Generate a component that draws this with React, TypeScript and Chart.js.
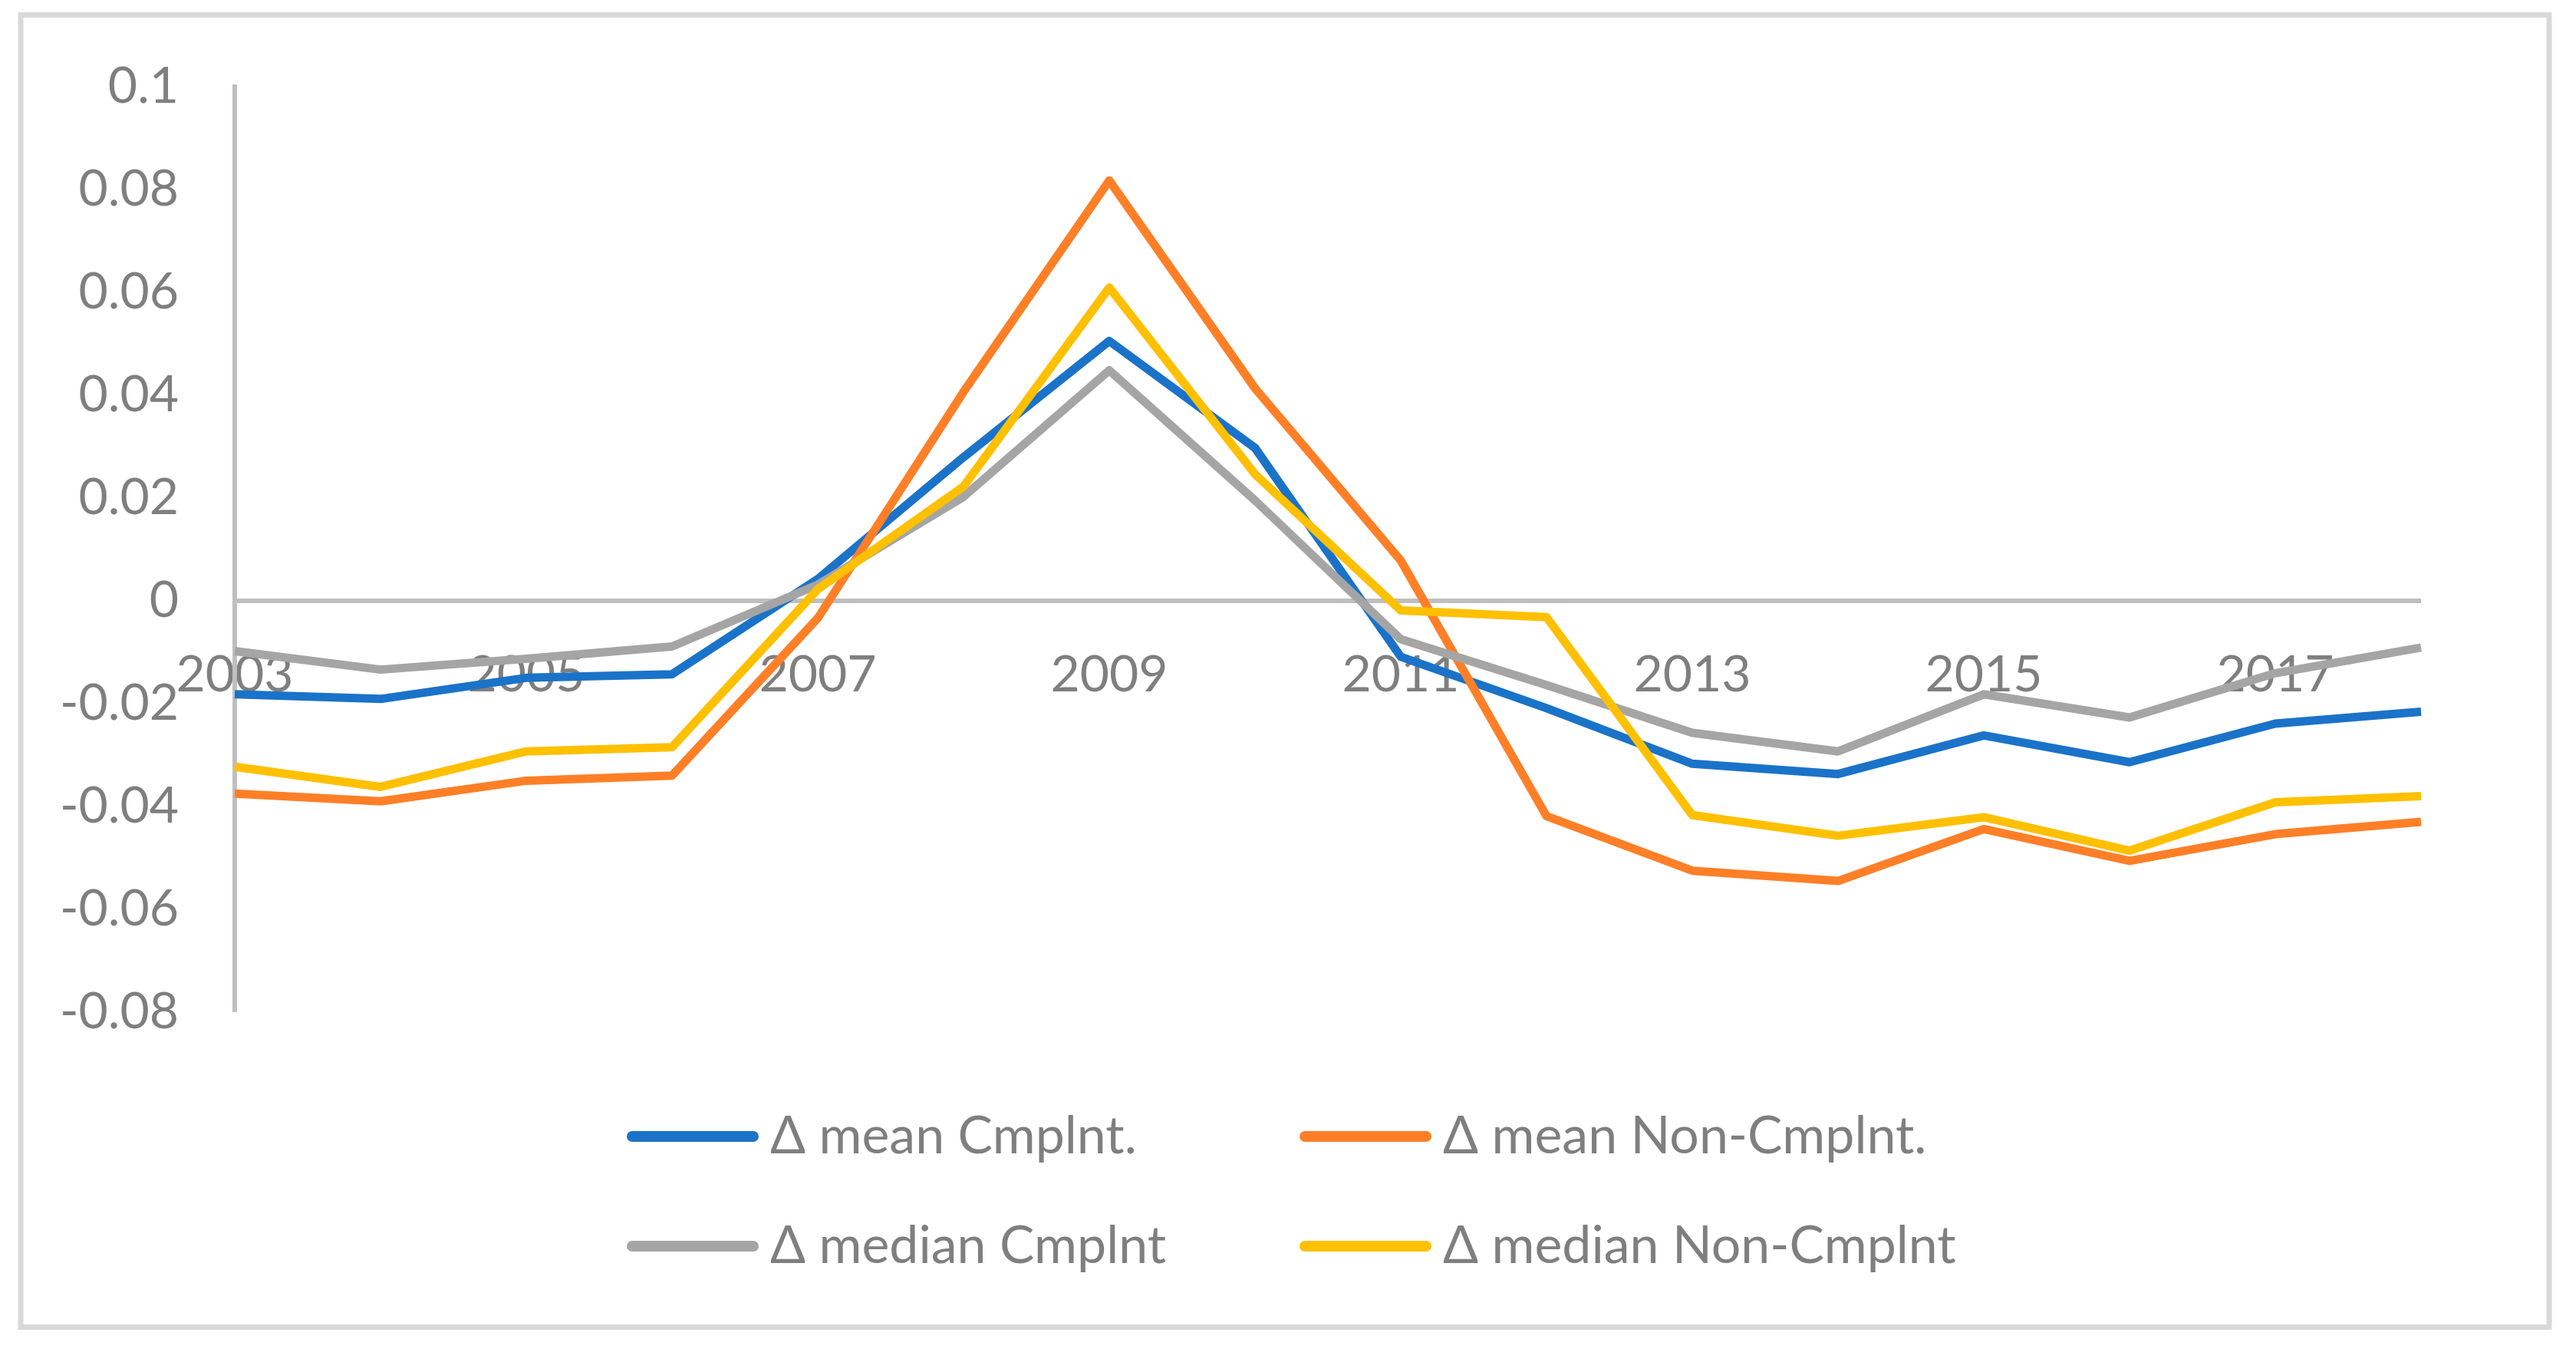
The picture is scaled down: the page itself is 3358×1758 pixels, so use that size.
import React, { useEffect, useRef } from 'react';
import { Chart, registerables } from 'chart.js';

Chart.register(...registerables);

// ---- data ----
const years = ['2003', '2004', '2005', '2006', '2007', '2008', '2009', '2010', '2011', '2012', '2013', '2014', '2015', '2016', '2017', '2018'];

const meanCmplnt = [-0.0182, -0.0191, -0.0150, -0.0143, 0.0042, 0.0279, 0.0505, 0.0297, -0.0109, -0.0209, -0.0317, -0.0337, -0.0262, -0.0314, -0.0239, -0.0216];
const meanNonCmplnt = [-0.0375, -0.0390, -0.0350, -0.0340, -0.0034, 0.0406, 0.0817, 0.0413, 0.0078, -0.0419, -0.0525, -0.0545, -0.0444, -0.0506, -0.0454, -0.0430];
const medianCmplnt = [-0.0098, -0.0134, -0.0113, -0.0089, 0.0031, 0.0202, 0.0448, 0.0195, -0.0075, -0.0164, -0.0257, -0.0293, -0.0182, -0.0227, -0.0141, -0.0091];
const medianNonCmplnt = [-0.0323, -0.0362, -0.0293, -0.0285, 0.0022, 0.0222, 0.0609, 0.0246, -0.0019, -0.0032, -0.0417, -0.0457, -0.0421, -0.0486, -0.0392, -0.0380];

const seriesLabels = ['Δ mean Cmplnt.', 'Δ mean Non-Cmplnt.', 'Δ median Cmplnt', 'Δ median Non-Cmplnt'];
const seriesValues = [meanCmplnt, meanNonCmplnt, medianCmplnt, medianNonCmplnt];
const seriesColors = ['#1A73C8', '#FF7F27', '#A5A5A5', '#FFC000'];

const yMin = -0.08;
const yMax = 0.1;
const yStep = 0.02;

// ---- style ----
const W = 3358;
const H = 1758;
const FONT = "Lato, 'Open Sans', 'Noto Sans', sans-serif";
const FONT_SIZE = 66;
const LEGEND_FONT_SIZE = 68;
const TEXT_COLOR = '#7F7F7F';
const AXIS_COLOR = '#BFBFBF';

const framePlugin = {
  id: 'frame',
  beforeDraw(chart: any) {
    const ctx = chart.ctx;
    ctx.save();
    ctx.fillStyle = '#FFFFFF';
    ctx.fillRect(0, 0, chart.width, chart.height);
    ctx.strokeStyle = '#D9D9D9';
    ctx.lineWidth = 7;
    ctx.strokeRect(27, 19.5, 3296, 1710);
    ctx.restore();
  },
};

const gridLegendPlugin = {
  id: 'gridLegend',
  afterDraw(chart: any) {
    const ctx = chart.ctx;
    const colX = [817, 1694];
    const rowY = [1481, 1624];
    chart.data.datasets.forEach((ds: any, i: number) => {
      const x = colX[i % 2];
      const y = rowY[Math.floor(i / 2)];
      ctx.save();
      ctx.strokeStyle = ds.borderColor;
      ctx.lineWidth = 14;
      ctx.lineCap = 'round';
      ctx.beginPath();
      ctx.moveTo(x + 7, y);
      ctx.lineTo(x + 165, y);
      ctx.stroke();
      ctx.fillStyle = TEXT_COLOR;
      ctx.font = `${LEGEND_FONT_SIZE}px ${FONT}`;
      ctx.textBaseline = 'middle';
      ctx.textAlign = 'left';
      ctx.fillText(ds.label, x + 187, y);
      ctx.restore();
    });
  },
};

export default function App() {
  const canvasRef = useRef<HTMLCanvasElement | null>(null);

  useEffect(() => {
    const canvas = canvasRef.current;
    if (!canvas) return;
    const chart = new Chart(canvas, {
      type: 'line',
      data: {
        labels: years,
        datasets: seriesValues.map((vals, i) => ({
          label: seriesLabels[i],
          data: vals,
          borderColor: seriesColors[i],
          backgroundColor: seriesColors[i],
          borderWidth: 11,
          borderJoinStyle: 'round' as const,
          borderCapStyle: 'butt' as const,
          pointRadius: 0,
          pointHoverRadius: 0,
          tension: 0,
          fill: false,
          order: seriesValues.length - 1 - i,
        })),
      },
      options: {
        responsive: false,
        animation: false,
        devicePixelRatio: 1,
        layout: {
          padding: { left: 0, right: 202, top: 111, bottom: 439 },
        },
        plugins: {
          legend: { display: false },
          tooltip: { enabled: false },
          title: { display: false },
        },
        scales: {
          x: {
            type: 'category',
            position: { y: 0 } as any,
            offset: false,
            z: 1,
            grid: { display: false, drawTicks: false },
            border: { display: false },
            ticks: {
              autoSkip: false,
              maxRotation: 0,
              minRotation: 0,
              padding: 57,
              color: TEXT_COLOR,
              font: { family: FONT, size: FONT_SIZE },
              callback: function (this: any, _v: any, index: number) {
                return index % 2 === 0 ? years[index] : '';
              },
            },
          },
          y: {
            type: 'linear',
            position: 'left',
            min: yMin,
            max: yMax,
            afterFit: (scale: any) => {
              scale.width = 306;
            },
            grid: {
              drawTicks: false,
              drawOnChartArea: true,
              color: (ctx: any) => (ctx.tick && Math.abs(ctx.tick.value) < 1e-9 ? AXIS_COLOR : 'rgba(0,0,0,0)'),
              lineWidth: (ctx: any) => (ctx.tick && Math.abs(ctx.tick.value) < 1e-9 ? 6 : 0),
            },
            border: { display: true, color: AXIS_COLOR, width: 6 },
            ticks: {
              stepSize: yStep,
              padding: 73,
              color: TEXT_COLOR,
              font: { family: FONT, size: FONT_SIZE },
              callback: (v: any) => String(Number(Number(v).toFixed(2))),
            },
          },
        },
      },
      plugins: [framePlugin, gridLegendPlugin],
    });
    return () => chart.destroy();
  }, []);

  return (
    <div style={{ position: 'fixed', left: 0, top: 0, width: W, height: H, background: '#fff' }}>
      <canvas ref={canvasRef} width={W} height={H} style={{ width: W, height: H, display: 'block' }} />
    </div>
  );
}
